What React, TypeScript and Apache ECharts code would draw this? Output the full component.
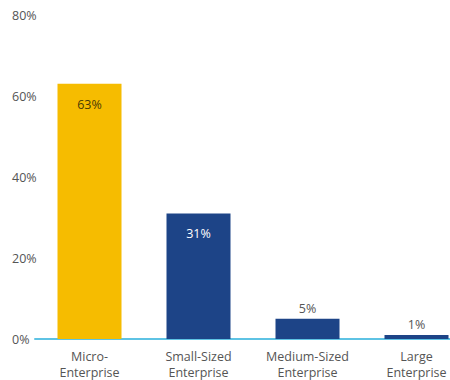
import React, { useEffect, useRef } from "react";
import * as echarts from "echarts";

const categories = [
  "Micro-\nEnterprise",
  "Small-Sized\nEnterprise",
  "Medium-Sized\nEnterprise",
  "Large\nEnterprise",
];
const shares = [63, 31, 5, 1];
const barColors = ["#F6BC00", "#1D4487", "#1D4487", "#1D4487"];
const yTicks = { min: 0, max: 80, interval: 20 };

const FONT = "'Open Sans', 'Noto Sans', sans-serif";

export default function App() {
  const ref = useRef<HTMLDivElement>(null);

  useEffect(() => {
    if (!ref.current) return;
    const chart = echarts.init(ref.current, null, { renderer: "svg" });
    chart.setOption({
      animation: false,
      textStyle: { fontFamily: FONT },
      // the last category band runs past the right edge of the canvas
      grid: {
        left: 35,
        width: 436,
        top: 15,
        bottom: 41,
        containLabel: false,
        outerBoundsMode: "none",
      },
      xAxis: {
        type: "category",
        data: categories,
        axisLine: { lineStyle: { color: "#5EC3E4", width: 2 } },
        axisTick: { show: false },
        axisLabel: {
          color: "#555",
          fontSize: 12.5,
          fontFamily: FONT,
          lineHeight: 16,
          margin: 9,
          interval: 0,
        },
      },
      yAxis: {
        type: "value",
        min: yTicks.min,
        max: yTicks.max,
        interval: yTicks.interval,
        splitLine: { show: false },
        axisLine: { show: false },
        axisTick: { show: false },
        axisLabel: {
          color: "#555",
          fontSize: 12.5,
          fontFamily: FONT,
          align: "left",
          margin: 23,
          formatter: (v: number) => `${v}%`,
        },
      },
      series: [
        {
          type: "bar",
          barWidth: 64,
          data: shares.map((v, i) => {
            const inside = v >= 20;
            return {
              value: v,
              itemStyle: { color: barColors[i] },
              label: {
                show: true,
                position: inside ? "insideTop" : "top",
                distance: inside ? 14 : 4,
                color: i === 0 ? "#4A3A05" : inside ? "#FFFFFF" : "#555",
                fontSize: 12.5,
                fontFamily: FONT,
                formatter: `${v}%`,
              },
            };
          }),
        },
      ],
    });
    return () => chart.dispose();
  }, []);

  return (
    <div
      ref={ref}
      style={{ position: "fixed", left: 0, top: 0, width: 450, height: 380, background: "#fff" }}
    />
  );
}
